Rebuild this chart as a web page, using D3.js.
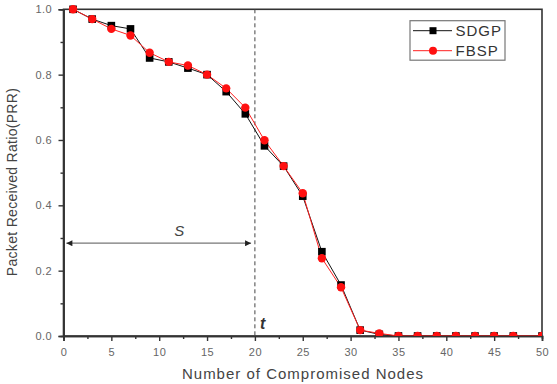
<!DOCTYPE html>
<html>
<head>
<meta charset="utf-8">
<script src="https://cdn.jsdelivr.net/npm/d3@7"></script>
<style>
body{margin:0;background:#fff;}
svg{display:block;}
text{font-family:"Liberation Sans",Arial,sans-serif;}
</style>
</head>
<body>
<div id="chart"></div>
<script>
const nodes = [1,3,5,7,9,11,13,15,17,19,21,23,25,27,29,31,33,35,37,39,41,43,45,47,50];
const sdgp = [1.0,0.97,0.95,0.94,0.851,0.839,0.82,0.80,0.748,0.68,0.582,0.52,0.428,0.258,0.156,0.018,0.005,0,0,0,0,0,0,0,0];
const fbsp = [1.0,0.97,0.94,0.92,0.867,0.839,0.828,0.80,0.758,0.699,0.599,0.52,0.437,0.238,0.149,0.018,0.008,0,0,0,0,0,0,0,0];
const xTicks = [0,5,10,15,20,25,30,35,40,45,50];
const yTicks = [0.0,0.2,0.4,0.6,0.8,1.0];
const seriesNames = ["SDGP","FBSP"];
const tLine = 20;
const sRange = [0.3,19.6];
const sLevel = 0.284;

const W=557,H=384;
const svg=d3.select("#chart").append("svg").attr("width",W).attr("height",H);
const x=d3.scaleLinear().domain([0,50]).range([63.5,542]);
const y=d3.scaleLinear().domain([0,1]).range([336,9.3]);

svg.append("defs").append("clipPath").attr("id","clip")
  .append("rect").attr("x",x(0)).attr("y",y(1)-6).attr("width",x(50)-x(0)).attr("height",y(0)-y(1)+6);

// frame
svg.append("rect").attr("x",x(0)).attr("y",y(1)).attr("width",x(50)-x(0)).attr("height",y(0)-y(1))
  .attr("fill","none").attr("stroke","#333").attr("stroke-width",1.6);

// axes
const xAxis=d3.axisBottom(x).tickValues(xTicks).tickSize(5).tickFormat(d3.format("d"));
const gx=svg.append("g").attr("transform",`translate(0,${y(0)})`).call(xAxis);
const xMinor=d3.axisBottom(x).tickValues(d3.range(2.5,50,5)).tickSize(3).tickFormat("");
const gxm=svg.append("g").attr("transform",`translate(0,${y(0)})`).call(xMinor);
const yAxis=d3.axisLeft(y).tickValues(yTicks).tickSize(5).tickFormat(d3.format(".1f"));
const gy=svg.append("g").attr("transform",`translate(${x(0)},0)`).call(yAxis);
const yMinor=d3.axisLeft(y).tickValues([0.1,0.3,0.5,0.7,0.9]).tickSize(3).tickFormat("");
const gym=svg.append("g").attr("transform",`translate(${x(0)},0)`).call(yMinor);
[gx,gxm,gy,gym].forEach(g=>{
  g.select(".domain").attr("stroke","#333").attr("stroke-width",1.6);
  g.selectAll(".tick line").attr("stroke","#333").attr("stroke-width",1.4);
  g.selectAll("text").attr("fill","#666").attr("font-size",11).style("letter-spacing","0.5px");
});
gx.selectAll("text").attr("dy","1.1em");
gy.selectAll("text").attr("dx","-0.3em");

// axis labels
svg.append("text").attr("x",303).attr("y",379).attr("text-anchor","middle")
  .attr("font-size",15).attr("fill","#444").style("letter-spacing","1px").text("Number of Compromised Nodes");
svg.append("text").attr("transform",`translate(17,182) rotate(-90)`).attr("text-anchor","middle")
  .attr("font-size",14).attr("fill","#444").style("letter-spacing","0.3px").text("Packet Received Ratio(PRR)");

// dashed line
svg.append("line").attr("x1",x(tLine)).attr("x2",x(tLine)).attr("y1",y(1)).attr("y2",y(0))
  .attr("stroke","#444").attr("stroke-width",1).attr("stroke-dasharray","4,3");

// arrow
const defs=svg.select("defs");
defs.append("marker").attr("id","ah").attr("viewBox","0 0 10 10").attr("refX",10).attr("refY",5)
  .attr("markerWidth",8).attr("markerHeight",6).attr("orient","auto-start-reverse").attr("markerUnits","userSpaceOnUse")
  .append("path").attr("d","M0,0L10,5L0,10Z").attr("fill","#222");
svg.append("line").attr("x1",x(sRange[0])).attr("x2",x(sRange[1])).attr("y1",y(sLevel)).attr("y2",y(sLevel))
  .attr("stroke","#777").attr("stroke-width",1.2).attr("marker-start","url(#ah)").attr("marker-end","url(#ah)");
svg.append("text").attr("x",x(12.1)).attr("y",y(sLevel)-7).attr("text-anchor","middle").attr("font-size",15)
  .attr("font-style","italic").attr("fill","#444").text("S");
svg.append("text").attr("x",x(20.8)).attr("y",y(0.02)).attr("text-anchor","middle").attr("font-size",16)
  .attr("font-style","italic").attr("font-weight","bold").attr("fill","#333").text("t");

// lines
const line=d3.line().x((d,i)=>x(nodes[i])).y(d=>y(d));
const plot=svg.append("g").attr("clip-path","url(#clip)");
plot.append("path").datum(sdgp).attr("d",line).attr("fill","none").attr("stroke","#111").attr("stroke-width",1);
plot.append("path").datum(fbsp).attr("d",line).attr("fill","none").attr("stroke","#ff2020").attr("stroke-width",1);
plot.selectAll(".sq").data(sdgp).enter().append("rect")
  .attr("x",(d,i)=>x(nodes[i])-3.8).attr("y",d=>y(d)-3.8).attr("width",7.6).attr("height",7.6).attr("fill","#000");
plot.selectAll(".ci").data(fbsp).enter().append("circle")
  .attr("cx",(d,i)=>x(nodes[i])).attr("cy",d=>y(d)).attr("r",4.2).attr("fill","#ff1010");

// legend
const lg=svg.append("g");
lg.append("rect").attr("x",410).attr("y",20.7).attr("width",95).attr("height",39.5)
  .attr("fill","#fff").attr("stroke","#777").attr("stroke-width",1.2);
const colors=["#111","#ff2020"];
seriesNames.forEach((n,i)=>{
  const yy=30.7+i*20;
  lg.append("line").attr("x1",413).attr("x2",452).attr("y1",yy).attr("y2",yy).attr("stroke",colors[i]).attr("stroke-width",1);
  if(i===0) lg.append("rect").attr("x",433-3.5).attr("y",yy-3.5).attr("width",7).attr("height",7).attr("fill","#000");
  else lg.append("circle").attr("cx",433).attr("cy",yy).attr("r",4).attr("fill","#ff1010");
  lg.append("text").attr("x",455.5).attr("y",yy+5.3).attr("font-size",15).attr("fill","#333").style("letter-spacing","1px").text(n);
});
</script>
</body>
</html>
